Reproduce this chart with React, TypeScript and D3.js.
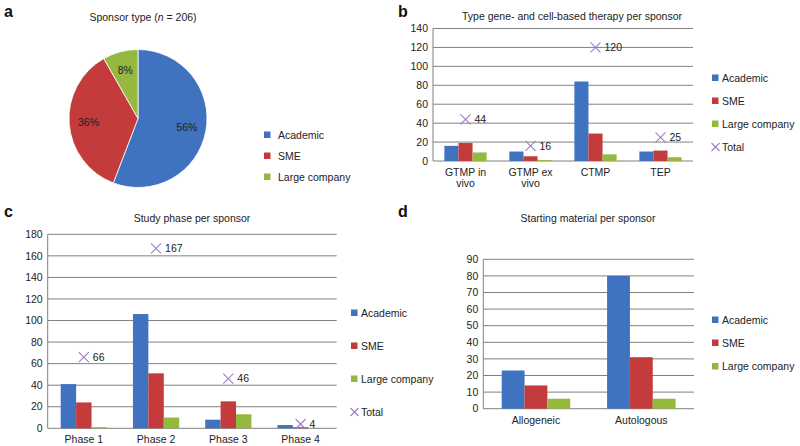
import React from "react";
import * as d3 from "d3";

const SERIES = ["Academic", "SME", "Large company"];
const COLORS = ["#3f72bf", "#c33b3a", "#95b93f"];
const TOTAL_COLOR = "#9b7cc6";

// Panel a
const pieValues = [115, 74, 17];
const pieLabels = ["56%", "36%", "8%"];

// Panel b
const bCategories = [["GTMP in", "vivo"], ["GTMP ex", "vivo"], ["CTMP"], ["TEP"]];
const bAcademic = [16, 10, 84, 10];
const bSME = [19, 5, 29, 11];
const bLarge = [9, 1, 7, 4];
const bTotal = [44, 16, 120, 25];
const bTicks = [0, 20, 40, 60, 80, 100, 120, 140];

// Panel c
const cCategories = [["Phase 1"], ["Phase 2"], ["Phase 3"], ["Phase 4"]];
const cAcademic = [41, 106, 8, 3];
const cSME = [24, 51, 25, 1];
const cLarge = [1, 10, 13, 0];
const cTotal = [66, 167, 46, 4];
const cTicks = [0, 20, 40, 60, 80, 100, 120, 140, 160, 180];

// Panel d
const dCategories = [["Allogeneic"], ["Autologous"]];
const dAcademic = [23, 80];
const dSME = [14, 31];
const dLarge = [6, 6];
const dTicks = [0, 10, 20, 30, 40, 50, 60, 70, 80, 90];

const FONT = "Liberation Sans, Arial, sans-serif";
const TXT = "#222";
const FS = 10.5;

function Cross({ x, y, s = 5 }: { x: number; y: number; s?: number }) {
  return (
    <g stroke={TOTAL_COLOR} strokeWidth={1.1}>
      <line x1={x - s} y1={y - s} x2={x + s} y2={y + s} />
      <line x1={x - s} y1={y + s} x2={x + s} y2={y - s} />
    </g>
  );
}

type BarProps = {
  x0: number; x1: number; y0: number; y1: number; max: number;
  ticks: number[]; cats: string[][]; series: number[][]; totals?: number[];
  barFrac: number; title: string; titleX: number; titleY: number;
  legendX: number; legendYs: number[];
};

function BarPanel(p: BarProps) {
  const y = d3.scaleLinear().domain([0, p.max]).range([p.y0, p.y1]);
  const x = d3.scaleBand<number>().domain(p.cats.map((_, i) => i)).range([p.x0, p.x1]);
  const groupW = x.bandwidth() * p.barFrac;
  const inner = d3.scaleBand<number>().domain(p.series.map((_, i) => i)).range([0, groupW]);
  const legendNames = p.totals ? [...SERIES, "Total"] : SERIES;
  return (
    <g fontFamily={FONT} fill={TXT}>
      <text x={p.titleX} y={p.titleY} fontSize={FS} textAnchor="middle">{p.title}</text>
      {p.ticks.map((t) => (
        <g key={t}>
          <line x1={p.x0} x2={p.x1} y1={y(t)} y2={y(t)} stroke="#808080" strokeWidth={1} />
          <text x={p.x0 - 5} y={y(t) + 3.7} fontSize={FS} textAnchor="end">{t}</text>
        </g>
      ))}
      <line x1={p.x0} x2={p.x0} y1={p.y0} y2={p.y1} stroke="#808080" strokeWidth={1} />
      {p.cats.map((c, i) => {
        const cx = (x(i) as number) + x.bandwidth() / 2;
        const gx = cx - groupW / 2;
        return (
          <g key={i}>
            {p.series.map((s, j) => (
              <rect key={j} x={gx + (inner(j) as number)} width={inner.bandwidth()}
                y={y(s[i])} height={p.y0 - y(s[i])} fill={COLORS[j]} />
            ))}
            {c.map((line, k) => (
              <text key={k} x={cx} y={p.y0 + 15 + k * 11} fontSize={FS} textAnchor="middle">{line}</text>
            ))}
            {p.totals && (
              <g>
                <Cross x={cx} y={y(p.totals[i])} />
                <text x={cx + 9} y={y(p.totals[i]) + 3.7} fontSize={FS}>{p.totals[i]}</text>
              </g>
            )}
          </g>
        );
      })}
      {legendNames.map((n, j) => (
        <g key={n}>
          {j < 3 ? (
            <rect x={p.legendX} y={p.legendYs[j] - 3.5} width={6.5} height={6.5} fill={COLORS[j]} />
          ) : (
            <Cross x={p.legendX + 3.5} y={p.legendYs[j]} s={4} />
          )}
          <text x={p.legendX + 10} y={p.legendYs[j] + 3.7} fontSize={FS}>{n}</text>
        </g>
      ))}
    </g>
  );
}

function PiePanel() {
  const cx = 138, cy = 118.5, r = 69;
  const pie = d3.pie<number>().sort(null).value((d) => d);
  const arcs = pie(pieValues);
  const arc = d3.arc<d3.PieArcDatum<number>>().innerRadius(0).outerRadius(r);
  const labelArc = d3.arc<d3.PieArcDatum<number>>().innerRadius(r * 0.72).outerRadius(r * 0.72);
  const legendYs = [135, 156, 177];
  return (
    <g fontFamily={FONT} fill={TXT}>
      <text x={143} y={21} fontSize={FS} textAnchor="middle">
        Sponsor type (<tspan fontStyle="italic">n</tspan> = 206)
      </text>
      <g transform={`translate(${cx},${cy})`}>
        {arcs.map((a, i) => (
          <path key={i} d={arc(a) as string} fill={COLORS[i]} stroke="#fff" strokeWidth={0.8} />
        ))}
        {arcs.map((a, i) => {
          const [lx, ly] = labelArc.centroid(a);
          return (
            <text key={i} x={lx} y={ly + 3.7} fontSize={FS} textAnchor="middle">{pieLabels[i]}</text>
          );
        })}
      </g>
      {SERIES.map((n, j) => (
        <g key={n}>
          <rect x={264} y={legendYs[j] - 3.5} width={6.5} height={6.5} fill={COLORS[j]} />
          <text x={278} y={legendYs[j] + 3.7} fontSize={FS}>{n}</text>
        </g>
      ))}
    </g>
  );
}

export default function App() {
  return (
    <svg width={800} height={446} style={{ position: "absolute", left: 0, top: 0, background: "#fff" }}>
      <g fontFamily={FONT} fontWeight="bold" fontSize={16} fill="#111">
        <text x={4} y={17}>a</text>
        <text x={398} y={17}>b</text>
        <text x={4} y={217}>c</text>
        <text x={398} y={217}>d</text>
      </g>
      <PiePanel />
      <BarPanel x0={433} x1={693} y0={161} y1={28.5} max={140} ticks={bTicks}
        cats={bCategories} series={[bAcademic, bSME, bLarge]} totals={bTotal}
        barFrac={0.65} title="Type gene- and cell-based therapy per sponsor"
        titleX={572} titleY={20} legendX={712} legendYs={[78, 101, 124, 147]} />
      <BarPanel x0={47.7} x1={336.7} y0={428.3} y1={234.3} max={180} ticks={cTicks}
        cats={cCategories} series={[cAcademic, cSME, cLarge]} totals={cTotal}
        barFrac={0.64} title="Study phase per sponsor"
        titleX={192} titleY={222} legendX={351} legendYs={[313, 346, 379, 412]} />
      <BarPanel x0={483.3} x1={694} y0={408.7} y1={259.3} max={90} ticks={dTicks}
        cats={dCategories} series={[dAcademic, dSME, dLarge]}
        barFrac={0.65} title="Starting material per sponsor"
        titleX={588} titleY={222} legendX={712} legendYs={[320, 343, 366.5]} />
    </svg>
  );
}
